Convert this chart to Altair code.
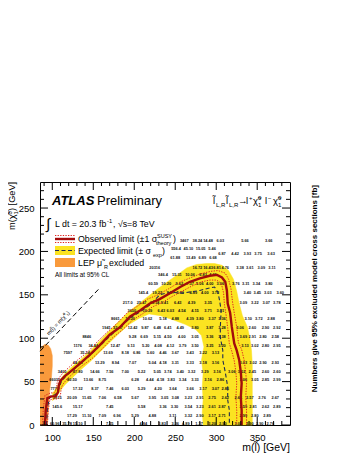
import altair as alt
import pandas as pd

FONT = "Liberation Sans"

# ---------------- axis ranges and ticks ----------------
x_domain = [85, 390]
y_domain = [0, 280]
x_major = [100, 150, 200, 250, 300, 350]
y_major = [0, 50, 100, 150, 200, 250]
x_minor = [90, 110, 120, 130, 140, 160, 170, 180, 190, 210, 220, 230, 240,
           260, 270, 280, 290, 310, 320, 330, 340, 360, 370, 380]
y_minor = [10, 20, 30, 40, 60, 70, 80, 90, 110, 120, 130, 140, 160, 170, 180,
           190, 210, 220, 230, 240, 260, 270]

# ---------------- observed limit (thick red) ----------------
obs_x = [91, 92, 94, 99, 104, 107, 108, 110, 115, 124, 134, 146, 158, 170, 183,
         195, 207, 219, 231, 244, 256, 268, 280, 292, 301, 307, 311, 313, 314,
         317, 319, 322, 325, 328, 330, 331, 330, 331, 331]
obs_y = [0, 17, 31, 33, 33, 38, 46, 51, 56, 63, 71, 81, 92, 104, 113, 125, 132,
         140, 145, 152, 159, 165, 169, 172, 173, 170, 165, 155, 140, 129, 113,
         94, 86, 75, 61, 48, 32, 17, 0]

# observed +1 sigma(theory) (dotted)
obs_up_x = [88, 89, 91, 98, 103, 105, 106, 108, 113, 121, 131, 143, 155, 167,
            179, 191, 204, 216, 229, 242, 254, 267, 280, 293, 302, 311, 315, 318,
            320, 322, 325, 327, 331, 334, 336, 337, 336, 337, 337]
obs_up_y = [0, 18, 34, 37, 37, 42, 49, 54, 60, 67, 75, 84, 96, 107, 117, 129,
            137, 145, 150, 157, 164, 169, 174, 177, 178, 175, 168, 157, 141, 129,
            113, 95, 87, 75, 61, 48, 32, 17, 0]
# observed -1 sigma(theory) (dotted)
obs_dn_x = [94, 95, 97, 101, 107, 110, 111, 113, 118, 126, 136, 149, 161, 173,
            186, 198, 210, 222, 234, 246, 258, 270, 282, 292, 300, 304, 307, 309,
            310, 312, 314, 316, 319, 322, 324, 325, 324, 325, 325]
obs_dn_y = [0, 16, 29, 30, 30, 35, 43, 47, 53, 60, 68, 77, 88, 100, 110, 121,
            128, 136, 141, 148, 154, 160, 165, 167, 167, 165, 160, 152, 139, 127,
            112, 94, 85, 74, 61, 48, 32, 17, 0]

# ---------------- expected limit (dashed) ----------------
exp_x = [93, 94, 97, 104, 108, 111, 117, 126, 136, 148, 160, 172, 184, 196, 208,
         220, 231, 244, 259, 280, 292, 298, 302, 304, 306, 305, 305, 308, 308,
         311, 314, 314, 316, 316]
exp_y = [0, 20, 33, 35, 42, 50, 57, 64, 72, 82, 93, 104, 114, 124, 131, 139, 150,
         153, 152, 155, 158, 159, 153, 144, 132, 113, 101, 86, 75, 61, 44, 29,
         17, 0]

# +-1 sigma expected band (closed outline: outer edge then inner edge)
band_x = [100, 106, 110, 116, 124, 134, 146, 158, 170, 182, 194, 206, 218, 230,
          242, 254, 264, 276, 288, 298, 307, 315, 321, 325, 328, 332, 338, 341,
          343, 344, 344, 344, 344, 344,
          284, 283, 284, 283, 284, 282, 285, 282, 275, 262, 248, 232, 218, 206,
          194, 182, 170, 158, 146, 134, 124, 116, 110, 104, 100]
band_y = [36, 44, 53, 60, 67, 75, 85, 97, 109, 120, 131, 140, 149, 158, 166,
          174, 181, 185, 186, 186, 184, 178, 168, 154, 140, 126, 113, 100, 86,
          70, 55, 40, 20, 0,
          0, 15, 29, 44, 60, 75, 90, 103, 110, 116, 121, 126, 128, 123, 116, 106,
          95, 84, 73, 63, 54, 47, 40, 31, 28]

# LEP smuon exclusion
lep_x = [85, 94, 95, 96, 97, 99, 100, 100, 98, 95, 91, 87, 85]
lep_y = [0, 0, 15, 30, 42, 55, 68, 80, 88, 92, 93, 90, 86]

# kinematic limit m(slepton) = m(neutralino)
diag_x = [85, 158]
diag_y = [85, 158]

# excluded cross sections [fb] per grid point: (m_chi, [(m_slep, label), ...])
num_rows = [
    (212, [(261, "3467"), (277, "38.24"), (290, "14.48"), (305, "6.03"), (335, "5.66"), (364, "3.66")]),
    (203, [(251, "556.4"), (266, "45.10"), (281, "15.05"), (295, "5.46")]),
    (197, [(307, "6.87"), (323, "4.42"), (338, "3.93"), (351, "3.75"), (367, "3.63")]),
    (192, [(250, "61.88"), (269, "13.49"), (283, "6.89"), (296, "6.68")]),
    (181, [(225, "20316"), (277, "16.72"), (290, "16.43"), (301, "6.81"), (311, "4.76"), (329, "3.38"),
           (341, "3.61"), (355, "3.09"), (368, "3.11")]),
    (173, [(235, "346.4"), (252, "15.31"), (268, "10.06"), (284, "6.83"), (296, "4.69")]),
    (162, [(223, "60.59"), (239, "10.20"), (255, "9.62"), (268, "7.37"), (280, "5.06"), (292, "4.00"),
           (305, "3.06"), (324, "3.76"), (336, "3.31"), (349, "3.34"), (364, "3.80")]),
    (152, [(211, "145.4"), (228, "19.22"), (244, "7.97"), (256, "5.10"), (272, "4.89"), (286, "4.00"),
           (299, "3.72"), (338, "3.40"), (350, "3.45"), (363, "3.03"), (378, "3.60")]),
    (141, [(192, "217.0"), (209, "25.47"), (225, "11.34"), (237, "9.41"), (253, "6.43"), (270, "4.39"),
           (290, "3.35"), (333, "3.09"), (347, "3.22"), (361, "3.07"), (374, "3.78")]),
    (131, [(197, "3650"), (216, "10.29"), (233, "6.43"), (244, "6.03"), (258, "4.54"), (274, "4.15"),
           (290, "3.71"), (305, "3.01")]),
    (122, [(177, "8661"), (195, "13.20"), (216, "10.62"), (235, "5.18"), (250, "4.88"), (268, "4.39"),
           (280, "3.80"), (295, "3.37"), (307, "3.36"), (339, "3.10"), (352, "3.72"), (367, "2.88")]),
    (112, [(166, "1941"), (180, "32.67"), (198, "12.42"), (213, "9.87"), (228, "6.48"), (241, "6.41"),
           (256, "4.49"), (274, "3.80"), (292, "3.87"), (307, "3.28"), (329, "3.06"), (344, "2.60"),
           (360, "2.90"), (374, "2.92")]),
    (101, [(142, "8846"), (198, "9.28"), (212, "6.69"), (228, "5.15"), (241, "4.50"), (258, "4.00"),
           (274, "3.05"), (292, "3.36"), (307, "3.38"), (333, "3.69"), (344, "2.91"), (357, "2.80"),
           (372, "2.58")]),
    (91, [(131, "1176"), (150, "34.44"), (177, "12.47"), (196, "9.13"), (214, "5.20"), (229, "4.08"),
          (244, "4.12"), (259, "3.79"), (274, "3.50"), (292, "3.25"), (307, "3.20"), (335, "3.13"),
          (347, "3.02"), (360, "2.80"), (374, "2.95")]),
    (83, [(119, "7597"), (140, "35.14"), (168, "13.69"), (189, "8.18"), (203, "6.86"), (220, "5.60"),
          (235, "4.46"), (250, "3.67"), (268, "3.43"), (284, "3.22"), (299, "3.13")]),
    (71, [(131, "44.63"), (158, "13.29"), (177, "8.94"), (198, "7.07"), (222, "5.04"), (235, "4.18"),
          (250, "3.31"), (268, "3.33"), (284, "3.18"), (299, "3.16"), (333, "3.03"), (345, "3.02"),
          (357, "2.90"), (372, "2.93")]),
    (61, [(112, "3400"), (131, "47.80"), (152, "14.66"), (170, "7.56"), (189, "7.00"), (209, "5.22"),
          (228, "5.05"), (241, "3.74"), (256, "3.40"), (270, "3.32"), (286, "3.29"), (301, "3.16"),
          (319, "3.06"), (331, "3.02"), (344, "2.45"), (360, "2.60"), (374, "2.60")]),
    (52, [(103, "66030"), (124, "80.50"), (144, "13.66"), (161, "8.75"), (201, "6.28"), (219, "4.44"),
          (232, "4.18"), (245, "3.83"), (259, "3.34"), (274, "3.33"), (290, "3.16"), (305, "2.86"),
          (333, "3.06"), (347, "3.05"), (360, "2.85"), (374, "2.99")]),
    (41, [(103, "7771"), (131, "17.32"), (152, "8.37"), (170, "7.46"), (189, "6.03"), (209, "5.29"),
          (229, "4.20"), (247, "3.64"), (268, "3.66"), (284, "3.17"), (299, "3.07"), (311, "2.85")]),
    (31, [(106, "2915"), (124, "20.09"), (142, "11.65"), (161, "7.06"), (180, "6.58"), (201, "5.67"),
          (222, "3.95"), (237, "3.05"), (250, "3.08"), (266, "3.23"), (280, "2.91"), (295, "2.75"),
          (311, "2.62"), (327, "2.65"), (341, "2.57"), (356, "2.76"), (372, "2.67")]),
    (21, [(106, "145.6"), (131, "15.17"), (170, "7.45"), (209, "5.58"), (235, "3.36"), (249, "3.30"),
          (266, "3.54"), (280, "3.23"), (295, "2.61"), (307, "2.87"), (333, "2.59"), (345, "2.81"),
          (360, "2.62"), (374, "2.89")]),
    (10, [(124, "17.29"), (142, "11.10"), (161, "7.09"), (179, "6.96"), (201, "5.29"), (222, "4.88"),
          (247, "3.11"), (266, "3.32"), (280, "2.90"), (295, "3.17"), (307, "2.71"), (333, "2.99"),
          (347, "2.80"), (362, "2.89")]),
    (1, [(103, "60.96"), (118, "35.78"), (131, "15.10"), (170, "7.25"), (211, "4.84"), (234, "3.83"),
         (250, "3.36"), (263, "4.89"), (279, "1.37"), (295, "3.20"), (308, "2.90"), (327, "3.02"),
         (341, "2.90"), (353, "2.90"), (366, "2.76")]),
]

# ---------------- build tables ----------------
def path_df(xs, ys):
    return pd.DataFrame({"x": xs, "y": ys, "i": list(range(len(xs)))})

nums = pd.DataFrame(
    [{"x": mx, "y": my, "t": lab} for my, row in num_rows for mx, lab in row]
)

W, H = 250, 243
xs = alt.Scale(domain=x_domain, nice=False, zero=False)
ys = alt.Scale(domain=y_domain, nice=False, zero=False)
xax = alt.Axis(values=x_major, title=None, ticks=False, domain=False, grid=False,
               labelFont=FONT, labelFontSize=9.5, labelColor="black", labelPadding=7,
               labelFlush=False)
yax = alt.Axis(values=y_major, title=None, ticks=False, domain=False, grid=False,
               labelFont=FONT, labelFontSize=9.5, labelColor="black", labelPadding=6)


def X(f="x"):
    return alt.X(f + ":Q", scale=xs, axis=xax)


def Y(f="y"):
    return alt.Y(f + ":Q", scale=ys, axis=yax)


def path(xv, yv, **mk):
    return alt.Chart(path_df(xv, yv)).mark_line(**mk).encode(
        x=X(), y=Y(), order=alt.Order("i:Q"))


layers = []
# yellow band and LEP area (closed outlines filled)
layers.append(path(band_x, band_y, fill="#fbe321", stroke="#fbe321", strokeWidth=0.5))
layers.append(path(lep_x, lep_y, fill="#f99a3c", stroke="#f99a3c", strokeWidth=0.5))

# numbers
layers.append(alt.Chart(nums).mark_text(fontSize=3.9, font=FONT, fontWeight="bold",
                                        color="#111111").encode(x=X(), y=Y(), text="t:N"))

# limit lines
layers.append(path(obs_up_x, obs_up_y, color="#e0241f", strokeWidth=1, strokeDash=[1.3, 1.3]))
layers.append(path(obs_dn_x, obs_dn_y, color="#e0241f", strokeWidth=1, strokeDash=[1.3, 1.3]))
layers.append(path(exp_x, exp_y, color="#1e2b52", strokeWidth=1.1, strokeDash=[4, 2.5]))
layers.append(path(obs_x, obs_y, color="#a30c0c", strokeWidth=2.4))

# diagonal kinematic line
layers.append(alt.Chart(path_df(diag_x, diag_y)).mark_line(
    color="black", strokeWidth=1, strokeDash=[5, 3]).encode(x=X(), y=Y()))

# inward ticks
def tick_layer(vals, axis, length):
    d = pd.DataFrame({"v": vals})
    base = alt.Chart(d).mark_rule(color="black", strokeWidth=1)
    if axis == "bottom":
        return base.encode(x=X("v"), y=alt.value(H), y2=alt.value(H - length))
    if axis == "top":
        return base.encode(x=X("v"), y=alt.value(0), y2=alt.value(length))
    if axis == "left":
        return base.encode(y=Y("v"), x=alt.value(0), x2=alt.value(length))
    return base.encode(y=Y("v"), x=alt.value(W), x2=alt.value(W - length))


for side in ["bottom", "top"]:
    layers.append(tick_layer(x_major, side, 8))
    layers.append(tick_layer(x_minor, side, 4))
for side in ["left", "right"]:
    layers.append(tick_layer(y_major, side, 8))
    layers.append(tick_layer(y_minor, side, 4))

one = pd.DataFrame({"k": [0]})


def txt(x, y, s, fs, align="left", baseline="alphabetic", **kw):
    return alt.Chart(one).mark_text(text=s, fontSize=fs, font=FONT, align=align,
                                    baseline=baseline, color="black", **kw).encode(
        x=alt.value(x), y=alt.value(y))


def hline(x1, x2, y, **kw):
    return alt.Chart(one).mark_rule(**kw).encode(x=alt.value(x1), x2=alt.value(x2), y=alt.value(y))


def box(x1, x2, y1, y2, color):
    return alt.Chart(one).mark_rect(color=color).encode(
        x=alt.value(x1), x2=alt.value(x2), y=alt.value(y1), y2=alt.value(y2))


# ATLAS label
layers.append(txt(12, 23, "ATLAS", 13, fontWeight="bold", fontStyle="italic"))
layers.append(txt(57, 23, "Preliminary", 13))
layers.append(txt(6, 47, "\u222b", 15))
layers.append(txt(15, 45, "L dt = 20.3 fb", 8.8))
layers.append(txt(67, 41, "-1", 5.8))
layers.append(txt(73, 45, ", \u221as=8 TeV", 8.8))

# legend
layers.append(hline(15, 35, 53.5, color="#e0241f", strokeWidth=1, strokeDash=[1.3, 1.3]))
layers.append(hline(15, 35, 60.5, color="#e0241f", strokeWidth=1, strokeDash=[1.3, 1.3]))
layers.append(hline(15, 35, 57, color="#a30c0c", strokeWidth=2.4))
layers.append(txt(38, 60, "Observed limit (\u00b11 \u03c3", 8.8))
layers.append(txt(117, 56, "SUSY", 5.5))
layers.append(txt(116, 63, "theory", 5.5))
layers.append(txt(133, 60, ")", 8.8))

layers.append(box(15, 35, 64, 73, "#fbe321"))
layers.append(hline(15, 35, 68.5, color="#1e2b52", strokeWidth=1.1, strokeDash=[4, 2.5]))
layers.append(txt(38, 72, "Expected limit (\u00b1 \u03c3", 8.8))
layers.append(txt(113, 75, "exp", 5.5))
layers.append(txt(122, 72, ")", 8.8))

layers.append(box(15, 35, 76, 85, "#f99a3c"))
layers.append(txt(38, 84, "LEP \u03bc\u0303", 8.8))
layers.append(txt(64, 87, "R", 5.5))
layers.append(txt(69, 84, " excluded", 8.8))
layers.append(txt(15, 95, "All limits at 95% CL", 6.3))

# process label
proc = [
    (173, 22, "l\u0303", 9.5), (176, 25, "L,R", 6), (186, 22, "l\u0303", 9.5), (189, 25, "L,R", 6),
    (198, 22, "\u2192", 9.5), (206, 22, "l", 9.5), (209, 18, "+", 6), (213, 22, "\u03c7\u0303", 9.5),
    (218, 18, "0", 6), (218, 25, "1", 6), (225, 22, "l", 9.5), (228, 18, "\u2212", 6),
    (233, 22, "\u03c7\u0303", 9.5), (238, 18, "0", 6), (238, 25, "1", 6),
]
for px, py, s, fs in proc:
    layers.append(txt(px, py, s, fs))

# diagonal label
layers.append(txt(18, 141, "m(l\u0303) = m(\u03c7\u0303\u2070\u2081)", 5.5, align="center",
                  baseline="middle", angle=313))

# axis titles
layers.append(txt(W, 269, "m(l\u0303) [GeV]", 10.5, align="right"))
# y title, rotated, with stacked super/subscript
layers.append(txt(-25, 48, "m(\u03c7\u0303", 9.2, angle=270))
layers.append(txt(-28, 32.5, "0", 6, angle=270))
layers.append(txt(-22, 32.5, "1", 6, angle=270))
layers.append(txt(-25, 29, ") [GeV]", 9.2, angle=270))
layers.append(txt(277, 3, "Numbers give 95% excluded model cross sections [fb]", 8,
                  align="right", angle=270, fontWeight="bold"))

chart = alt.layer(*layers).properties(
    width=W, height=H,
    padding={"left": 32, "top": 174, "right": 59, "bottom": 30},
    autosize=alt.AutoSizeParams(type="none"),
).configure_view(stroke="black", strokeWidth=1)

chart.save("out.html", embed_options={"renderer": "svg", "actions": False})
